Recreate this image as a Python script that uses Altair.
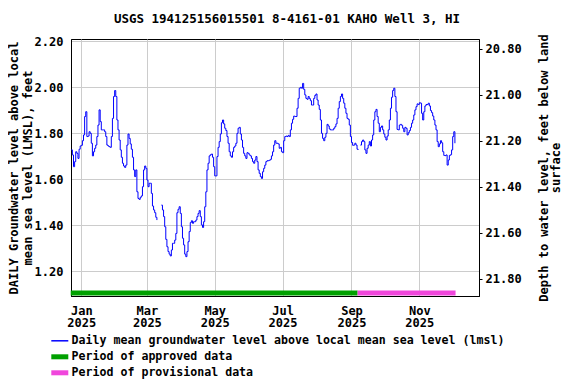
import altair as alt
import pandas as pd

title_text = "USGS 194125156015501 8-4161-01 KAHO Well 3, HI"
start_date = "2024-12-23"
levels = [
    1.728, 1.706, 1.655, 1.677, 1.720,
    1.713, 1.691, 1.731, 1.745, 1.748, 1.768, 1.793, 1.873, 1.894,
    1.786, 1.788, 1.807, 1.800, 1.757, 1.702, 1.720, 1.735, 1.749,
    1.786, 1.836, 1.902, 1.851, 1.815, 1.815, 1.815, 1.807, 1.786,
    1.749, 1.745, 1.742, 1.739, 1.786, 1.865, 1.960, 1.986, 1.960,
    1.858, 1.815, 1.771, 1.728, 1.696, 1.670, 1.658, 1.652, 1.662,
    1.749, 1.797, 1.778, 1.754, 1.731, 1.696, 1.641, 1.612, 1.641,
    1.546, 1.517, 1.513, 1.522, 1.528, 1.568, 1.641, 1.658, 1.648,
    1.597, 1.568, 1.583, 1.583, 1.539, 1.484, 1.467, 1.455, 1.435,
    1.423, None, None, None, 1.488, 1.467, 1.438, 1.394, 1.339,
    1.307, 1.286, 1.275, 1.267, 1.293, 1.322, 1.322, 1.336, 1.365,
    1.455, 1.470, 1.481, 1.452, 1.394, 1.344, 1.315, 1.275, 1.264,
    1.286, 1.329, 1.373, 1.412, 1.420, 1.409, 1.416, 1.416, 1.423,
    1.438, 1.452, 1.464, 1.438, 1.402, 1.391, 1.416, 1.481, 1.546,
    1.641, 1.670, 1.702, 1.707, 1.710, 1.696, 1.655, 1.615, 1.615,
    1.699, 1.739, 1.764, 1.797, 1.846, 1.858, 1.841, 1.822, 1.812,
    1.786, 1.757, 1.720, 1.702, 1.696, 1.720, 1.739, 1.745, 1.757,
    1.800, 1.822, 1.826, 1.797, 1.771, 1.739, 1.713, 1.702, 1.691,
    1.716, 1.713, 1.706, 1.702, 1.691, 1.677, 1.670, 1.684, 1.699,
    1.677, 1.641, 1.626, 1.612, 1.604, 1.633, 1.648, 1.662, 1.677,
    1.681, 1.681, 1.683, 1.687, 1.702, 1.720, 1.749, 1.768, 1.757,
    1.757, 1.754, 1.735, 1.739, 1.720, 1.716, 1.768, 1.786, 1.788,
    1.786, 1.791, 1.786, 1.815, 1.844, 1.861, 1.875, 1.873, 1.873,
    1.909, 1.952, 1.996, 2.000, 1.996, 2.017, 1.991, 1.967, 1.952,
    1.948, 1.960, 1.951, 1.942, 1.923, 1.923, 1.952, 1.965, 1.971,
    1.945, 1.923, 1.904, 1.858, 1.800, 1.778, 1.768, 1.783, 1.800,
    1.839, 1.832, 1.819, 1.815, 1.815, 1.815, 1.822, 1.829, 1.841,
    1.865, 1.909, 1.938, 1.960, 1.971, 1.952, 1.931, 1.909, 1.887,
    1.865, 1.861, 1.836, 1.786, 1.760, 1.748, 1.749, 1.757, 1.749,
    1.731, 1.728, None, 1.749, 1.764, 1.771, 1.764, 1.728, 1.713,
    1.735, 1.749, 1.764, 1.745, 1.771, 1.793, 1.858, 1.894, 1.904,
    1.873, 1.844, 1.807, 1.826, 1.832, 1.815, 1.797, 1.783, 1.771,
    1.788, 1.815, 1.858, 1.909, 1.957, 1.986, 1.996, 1.960, 1.894,
    1.817, 1.815, 1.836, 1.839, 1.835, 1.822, 1.807, 1.826, 1.822,
    1.793, 1.803, 1.812, 1.826, 1.844, 1.858, 1.880, 1.902, 1.916,
    1.928, 1.925, 1.933, 1.931, 1.887, 1.858, 1.894, 1.919, 1.925,
    1.925, 1.931, 1.919, 1.899, 1.890, 1.875, 1.858, 1.836, 1.815,
    1.764, 1.742, 1.754, 1.768, 1.759, 1.720, 1.704, 1.703, 1.706,
    1.662, 1.684, 1.704, 1.707, 1.728, 1.786, 1.807, 1.757,
]
land_surface_datum = 22.967  # depth below land surface = datum - level

series_names = [
    "Daily mean groundwater level above local mean sea level (lmsl)",
    "Period of approved data",
    "Period of provisional data",
]
series_colors = ["#0000ff", "#00a000", "#f046dc"]

period_start = ["2024-12-22T12:00:00Z", "2025-09-06T12:00:00Z"]
period_end = ["2025-09-06T12:00:00Z", "2025-12-03T14:00:00Z"]
period_series = [series_names[1], series_names[2]]

left_ticks = [1.2, 1.4, 1.6, 1.8, 2.0, 2.2]
right_ticks = [20.8, 21.0, 21.2, 21.4, 21.6, 21.8]
left_domain = [1.093, 2.210]
month_ticks = [alt.DateTime(year=2025, month=m, date=1, utc=True) for m in [1, 3, 5, 7, 9, 11]]
x_domain = [
    alt.DateTime(year=2024, month=12, date=22, hours=18, utc=True),
    alt.DateTime(year=2025, month=12, date=24, hours=16, utc=True),
]

dates = pd.date_range(start_date, periods=len(levels), freq="D").strftime("%Y-%m-%d")
df = pd.DataFrame({"date": dates, "level": levels})
df["series"] = series_names[0]
df["depth"] = [None if v is None else land_surface_datum - v for v in levels]

periods = pd.DataFrame({"start": period_start, "end": period_end, "series": period_series})

FONT = "DejaVu Sans Mono"

x_enc = alt.X(
    "date:T",
    scale=alt.Scale(type="utc", domain=x_domain),
    axis=alt.Axis(
        values=month_ticks,
        labelExpr="[utcFormat(datum.value, '%b'), utcFormat(datum.value, '%Y')]",
        title=None,
        grid=True,
        ticks=False,
        labelPadding=9,
        labelLineHeight=12.5,
    ),
)

color_enc = alt.Color(
    "series:N",
    scale=alt.Scale(domain=series_names, range=series_colors),
    legend=alt.Legend(
        title=None,
        orient="none",
        legendX=-17,
        legendY=296,
        direction="vertical",
        gridAlign="all",
        symbolType="stroke",
        symbolSize=289,
        symbolStrokeWidth=alt.ExprRef(expr="datum.index == 0 ? 1.5 : 5"),
        labelOffset=6,
        rowPadding=-6,
        padding=0,
        labelLimit=600,
    ),
)

line = (
    alt.Chart(df)
    .mark_line(strokeWidth=1, interpolate="step-after")
    .encode(
        x=x_enc,
        y=alt.Y(
            "level:Q",
            scale=alt.Scale(domain=left_domain, nice=False, zero=False),
            axis=alt.Axis(
                values=left_ticks,
                format=".2f",
                title=["DAILY Groundwater level above local", "mean sea level (LMSL), feet"],
                titlePadding=0,
                titleLineHeight=14,
                grid=True,
                ticks=False,
                labelPadding=8,
            ),
        ),
        color=color_enc,
    )
)

bars = (
    alt.Chart(periods)
    .mark_rule(strokeWidth=5)
    .encode(
        x="start:T",
        x2="end:T",
        y=alt.value(254),
        color=alt.Color("series:N", scale=alt.Scale(domain=series_names, range=series_colors)),
    )
)

right = (
    alt.Chart(df)
    .mark_line(opacity=0)
    .encode(
        x=alt.X("date:T"),
        y=alt.Y(
            "depth:Q",
            scale=alt.Scale(
                domain=[land_surface_datum - left_domain[1], land_surface_datum - left_domain[0]],
                reverse=True,
                nice=False,
                zero=False,
            ),
            axis=alt.Axis(
                orient="right",
                values=right_ticks,
                format=".2f",
                title=["Depth to water level, feet below land", "surface"],
                titleAngle=270,
                titlePadding=17,
                titleLineHeight=12,
                grid=False,
                ticks=True,
                tickSize=3,
                labelPadding=3,
            ),
        ),
    )
)

chart = (
    alt.layer(line, bars, right)
    .resolve_scale(y="independent")
    .properties(
        width=408,
        height=257,
        title=alt.TitleParams(
            title_text,
            font=FONT,
            fontSize=12.5,
            fontWeight="bold",
            anchor="middle",
            dx=12,
            offset=8,
            color="black",
        ),
        autosize=alt.AutoSizeParams(type="none"),
        padding={"left": 63, "top": 31, "right": 89, "bottom": 86},
    )
    .configure(font=FONT)
    .configure_view(stroke="black", strokeWidth=1)
    .configure_axis(
        labelFont=FONT,
        labelFontSize=12,
        labelFontWeight="bold",
        labelColor="black",
        titleFont=FONT,
        titleFontSize=12,
        titleFontWeight="bold",
        titleColor="black",
        domainColor="black",
        tickColor="black",
        gridColor="#cccccc",
        gridWidth=1,
    )
    .configure_legend(
        labelFont=FONT,
        labelFontSize=11.6,
        labelFontWeight="bold",
        labelColor="black",
    )
)

chart.save("out.html", embed_options={"renderer": "svg", "actions": False})
